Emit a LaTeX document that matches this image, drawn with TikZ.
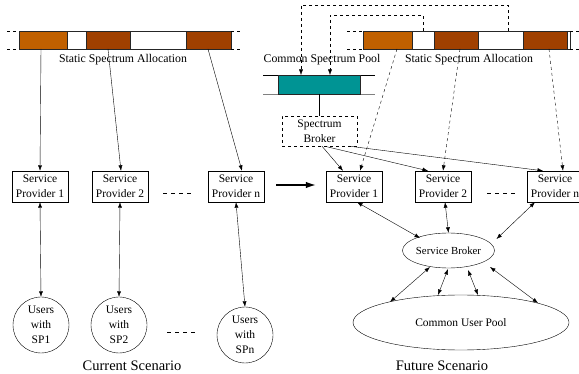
\documentclass[tikz,border=0pt]{standalone}
\usepackage{fontspec}
\setmainfont{Liberation Serif}
\usetikzlibrary{arrows.meta,calc,shapes.geometric}
\definecolor{sorange}{HTML}{C06000}
\definecolor{sbrown}{HTML}{A04000}
\definecolor{steal}{HTML}{009494}
\begin{document}
\begin{tikzpicture}[x=1pt,y=-1pt,
  spbox/.style={draw, fill=white, minimum width=56pt, minimum height=31pt, inner sep=0pt, align=center, font=\fontsize{11.5}{15}\selectfont},
  users/.style={draw, circle, minimum size=56pt, inner sep=0pt, align=center, font=\fontsize{11.5}{15}\selectfont},
  tip/.tip={Latex[length=5.5pt,width=4pt]},
  arr/.style={-tip},
  darr/.style={tip-tip},
  seg/.style={draw=black!85, line width=0.6pt},
  dsh/.style={dash pattern=on 3pt off 3pt},
  lbl/.style={font=\fontsize{11.8}{14}\selectfont},
  scen/.style={font=\fontsize{14.5}{16}\selectfont},
  dots/.style={dash pattern=on 4pt off 4pt}
]
\useasboundingbox (0,0) rectangle (579,374);
\clip (0,0) rectangle (579,374);

% ---------- left spectrum bar ----------
\draw[seg, fill=sorange] (19,31) rectangle (67,49);
\draw[seg, fill=white] (67,31) rectangle (86,49);
\draw[seg, fill=sbrown] (86,31) rectangle (130,49);
\draw[seg, fill=white] (130,31) rectangle (186,49);
\draw[seg, fill=sbrown] (186,31) rectangle (231,49);
\draw[dsh] (7,31) -- (19,31) (7,49) -- (19,49) (231,31) -- (242,31) (231,49) -- (242,49);
\node[lbl] (lsa) at (123,60) {Static Spectrum Allocation};
\coordinate (a1) at (41,49);
\coordinate (a2) at (108,49);
\coordinate (a3) at (208,49);

% ---------- left service providers ----------
\node[spbox] (sp1) at (40,186.5) {Service\\Provider 1};
\node[spbox] (sp2) at (120,186.5) {Service\\Provider 2};
\node[spbox] (spn) at (236,186.5) {Service\\Provider n};
\coordinate (d1) at (163,193);
\coordinate (d2) at (194,193);
\draw[dots] (d1) -- (d2);

\node[users] (u1) at (41,325) {Users\\with\\SP1};
\node[users] (u2) at (119,325) {Users\\with\\SP2};
\node[users] (un) at (245,335) {Users\\with\\SPn};
\coordinate (d3) at (167,332);
\coordinate (d4) at (198,332);
\draw[dots] (d3) -- (d4);

\draw[arr] (a1) -- (sp1.north);
\draw[arr] (a2) -- ($(sp2.north)+(1,0)$);
\draw[arr] (a3) -- ($(spn.north)+(6,0)$);
\draw[darr] (sp1.south) -- (u1.north);
\draw[darr] (sp2.south) -- (u2.north);
\draw[darr] (spn.south) -- (un.north);

\node[scen] (cur) at (132,366) {Current Scenario};

% ---------- right service providers ----------
\node[spbox] (f1) at (354,186.5) {Service\\Provider 1};
\node[spbox] (f2) at (443,186.5) {Service\\Provider 2};
\node[spbox] (fn) at (555,186.5) {Service\\Provider n};
\coordinate (d5) at (487,193);
\coordinate (d6) at (518,193);
\draw[dots] (d5) -- (d6);

% ---------- transition arrow ----------
\draw[-{Latex[length=10pt,width=6.5pt]}, line width=1.3pt] ($(spn.east)+(12,-1.5)$) -- ($(f1.west)+(-10,-1.5)$);

% ---------- right spectrum bar ----------
\draw[seg, fill=sorange] (363,31) rectangle (412,49);
\draw[seg, fill=white] (412,31) rectangle (434,49);
\draw[seg, fill=sbrown] (434,31) rectangle (478,49);
\draw[seg, fill=white] (478,31) rectangle (523,49);
\draw[seg, fill=sbrown] (523,31) rectangle (567,49);
\draw[seg, fill=white] (567,31) rectangle (570,49);
\draw[dsh] (347,31) -- (363,31) (347,49) -- (363,49) (570,31) -- (580,31) (570,49) -- (580,49);
\node[lbl] (rsa) at (469,60) {Static Spectrum Allocation};
\node[lbl] (csp) at (322,60) {Common Spectrum Pool};

% ---------- common spectrum pool ----------
\draw[black, line width=0.7pt] (263,75) -- (375,75);
\draw[black!50, line width=0.9pt] (263,94) -- (375,94);
\draw[seg, fill=steal] (278,75) rectangle (360,94);
\coordinate (t1) at (301,75);
\coordinate (t2) at (330,75);
\coordinate (c1) at (508,31);
\coordinate (c2) at (423,31);
\draw[dashed, arr] (c1) -- ++(0,-26) -| (t1);
\draw[dashed, arr] (c2) -- ++(0,-16) -| (t2);
\coordinate (pb) at (319.5,94);

\node[draw, dashed, minimum width=75pt, minimum height=30pt, inner sep=0pt, align=center, font=\fontsize{11.5}{15}\selectfont] (spb) at (319.5,131) {Spectrum\\Broker};
\draw (pb) -- (spb.north);

\coordinate (b1) at (397,49);
\coordinate (b2) at (460,49);
\coordinate (b3) at (549,49);
\draw[dashed, arr] (b1) -- ($(f1.north)+(6,0)$);
\draw[dashed, arr] (b2) -- (f2.north);
\draw[dashed, arr] (b3) -- ($(fn.north)+(8,0)$);

\draw[arr] ($(spb.south)+(2.5,0)$) -- ($(f1.north)+(-11,0)$);
\draw[arr] ($(spb.south)+(5,0)$) -- ($(f2.north)+(-15,0)$);
\draw[arr] ($(spb.south)+(30,0)$) -- ($(fn.north)+(-12,0)$);

% ---------- brokers and pool ----------
\node[draw, ellipse, minimum width=91pt, minimum height=35pt, inner sep=0pt, font=\fontsize{10.8}{13}\selectfont] (sbk) at (448.5,250.5) {Service Broker};
\node[draw, ellipse, minimum width=216pt, minimum height=55pt, inner sep=0pt, font=\fontsize{11.5}{14}\selectfont] (cup) at (461,322.5) {Common User Pool};

\draw[darr] ($(f1.south)+(3,0)$) -- ($(sbk.center)+(-28.5,-12.5)$);
\draw[darr] ($(f2.south)+(2,0)$) -- (sbk.north);
\draw[darr] ($(fn.south)+(-20,0)$) -- ($(sbk.center)+(48,-11.5)$);

\draw[darr] ($(sbk.center)+(-18.5,16.5)$) -- ($(cup.center)+(-71,-20.5)$);
\draw[darr] ($(sbk.center)+(-0.5,18.5)$) -- ($(cup.center)+(-23,-27.5)$);
\draw[darr] ($(sbk.center)+(19.5,19.5)$) -- ($(cup.center)+(17,-27.5)$);
\draw[darr] ($(sbk.center)+(41.5,16.5)$) -- ($(cup.center)+(77,-19.5)$);

\node[scen] (fut) at (442,366) {Future Scenario};
\end{tikzpicture}
\end{document}
